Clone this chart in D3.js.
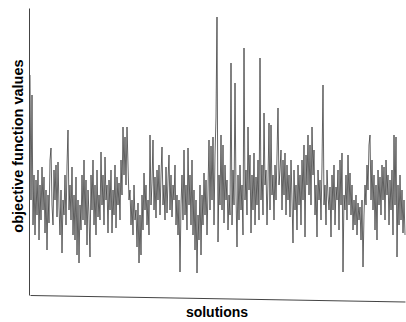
<!DOCTYPE html>
<html>
<head>
<meta charset="utf-8">
<script src="https://cdn.jsdelivr.net/npm/d3@7"></script>
<style>
  body { margin: 0; background: #fff; }
  svg { display: block; }
  text { font-family: "Liberation Sans", Arial, sans-serif; font-weight: bold; fill: #000; }
</style>
</head>
<body>
<div id="chart"></div>
<script>
// objective value of each solution (arbitrary units)
const objectiveValues = [
  220, 95, 200, 70, 120, 60, 115, 80, 125, 55,
  110, 75, 128, 85, 118, 62, 105, 45, 100, 72,
  135, 147, 90, 70, 125, 95, 130, 78, 133, 88,
  60, 105, 42, 95, 80, 120, 70, 130, 165, 85,
  110, 75, 128, 60, 100, 55, 118, 40, 95, 32,
  90, 65, 120, 75, 135, 70, 115, 50, 105, 80,
  38, 120, 85, 135, 70, 110, 60, 125, 78, 100,
  75, 143, 90, 120, 70, 138, 95, 110, 62, 115,
  85, 125, 62, 105, 80, 130, 67, 118, 90, 112,
  75, 135, 100, 168, 120, 158, 110, 168, 130, 95,
  105, 70, 95, 60, 110, 75, 85, 48, 92, 32,
  80, 40, 100, 65, 122, 85, 110, 70, 95, 60,
  160, 90, 112, 155, 85, 118, 77, 125, 95, 130,
  80, 120, 148, 90, 110, 75, 128, 82, 115, 140,
  85, 120, 78, 110, 95, 130, 70, 100, 60, 95,
  23, 90, 120, 75, 145, 80, 110, 65, 147, 90,
  120, 70, 135, 60, 105, 45, 95, 22, 80, 55,
  110, 40, 100, 70, 122, 80, 115, 60, 105, 155,
  85, 149, 95, 158, 70, 140, 178, 278, 53, 120,
  90, 160, 85, 150, 72, 130, 95, 115, 65, 100,
  80, 232, 70, 125, 90, 212, 100, 48, 120, 75,
  130, 85, 110, 60, 247, 95, 125, 80, 168, 105,
  140, 62, 120, 85, 142, 70, 118, 90, 135, 75,
  237, 95, 130, 80, 182, 110, 125, 70, 115, 172,
  85, 170, 100, 120, 75, 130, 95, 140, 187, 110,
  125, 145, 85, 135, 100, 142, 80, 130, 95, 120,
  78, 135, 95, 52, 125, 85, 110, 65, 130, 90,
  120, 70, 135, 95, 150, 58, 140, 110, 160, 100,
  150, 90, 168, 120, 145, 80, 110, 58, 125, 95,
  115, 75, 130, 210, 90, 110, 70, 125, 100, 85,
  108, 58, 120, 85, 130, 70, 108, 95, 125, 65,
  135, 90, 142, 23, 100, 85, 120, 75, 140, 90,
  122, 80, 110, 65, 95, 70, 100, 60, 92, 75,
  88, 55, 95, 28, 80, 110, 90, 130, 105, 150,
  160, 95, 135, 85, 120, 65, 110, 55, 125, 90,
  118, 80, 130, 95, 128, 75, 135, 100, 120, 70,
  115, 85, 125, 60, 160, 90, 158, 38, 110, 70,
  120, 75, 105, 62, 95, 60
];
const xLabel = "solutions";
const yLabel = "objective function values";

const width = 406;
const height = 322;
const margin = { top: 8, right: 1, bottom: 27, left: 29 };

const svg = d3
  .select("#chart")
  .append("svg")
  .attr("width", width)
  .attr("height", height);

const x = d3
  .scaleLinear()
  .domain([0, objectiveValues.length - 1])
  .range([margin.left + 1, width - margin.right]);

const y = d3
  .scaleLinear()
  .domain([0, 287])
  .range([height - margin.bottom, margin.top]);

// data line
const line = d3
  .line()
  .x((d, i) => x(i))
  .y((d) => y(d));

svg
  .append("path")
  .datum(objectiveValues)
  .attr("fill", "none")
  .attr("stroke", "#333")
  .attr("stroke-width", 0.75)
  .attr("stroke-linejoin", "miter")
  .attr("d", line);

// axes without ticks; the scanned x axis sags slightly to the right
const xAxis = svg
  .append("g")
  .attr(
    "transform",
    `translate(0,${height - margin.bottom}) rotate(1, ${margin.left}, 0)`
  )
  .call(d3.axisBottom(x).ticks(0).tickSizeOuter(0));

const yAxis = svg
  .append("g")
  .attr("transform", `translate(${margin.left},0)`)
  .call(d3.axisLeft(y).ticks(0).tickSizeOuter(0));

[xAxis, yAxis].forEach((g) => {
  g.select(".domain").attr("stroke", "#444").attr("stroke-width", 1);
});

svg
  .append("text")
  .attr("x", 217)
  .attr("y", 317)
  .attr("text-anchor", "middle")
  .attr("font-size", 14)
  .text(xLabel);

svg
  .append("text")
  .attr("transform", "translate(23,146) rotate(-90)")
  .attr("text-anchor", "middle")
  .attr("font-size", 14.5)
  .text(yLabel);
</script>
</body>
</html>
